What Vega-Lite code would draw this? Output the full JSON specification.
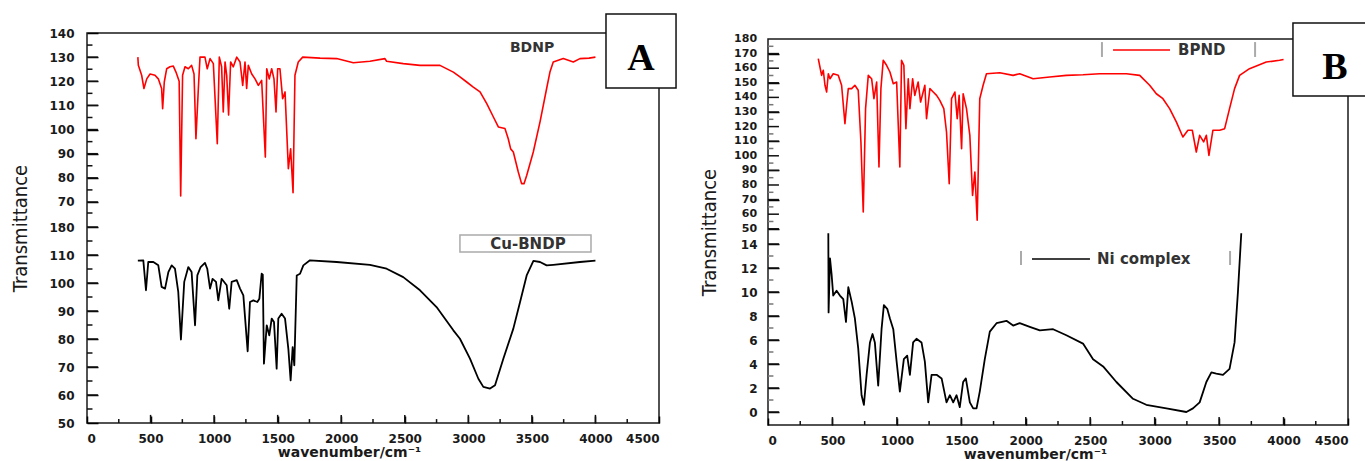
{
"$schema":"https://vega.github.io/schema/vega-lite/v6.json",
"padding":{"left":10,"top":12,"right":0,"bottom":0},
"background":"white",
"config":{"view":{"stroke":"#1a1a1a","strokeWidth":1.5},
 "axis":{"domain":false,"grid":false,"ticks":true,"zindex":2,"labelOverlap":false,"labelFont":"DejaVu Sans","labelFontWeight":"bold","labelFontSize":12,"labelColor":"#1a1a1a","tickColor":"#000000","tickWidth":1.5,"tickOpacity":1,"titleColor":"#1a1a1a"},
 "line":{"strokeJoin":"round"}},
"datasets":{
"tA_red_major":[{"v":70},{"v":80},{"v":90},{"v":100},{"v":110},{"v":120},{"v":130}],
"tA_red_minor":[{"v":75},{"v":85},{"v":95},{"v":105},{"v":115},{"v":125},{"v":135}],
"tA_blk_major":[{"v":60},{"v":70},{"v":80},{"v":90},{"v":100},{"v":110},{"v":120}],
"tA_blk_minor":[{"v":55},{"v":65},{"v":75},{"v":85},{"v":95},{"v":105},{"v":115},{"v":125}],
"tB_red_labels":[{"v":50},{"v":60},{"v":70},{"v":80},{"v":90},{"v":100},{"v":110},{"v":120},{"v":130},{"v":140},{"v":150},{"v":160},{"v":170},{"v":180}],
"tB_red_major":[{"v":50},{"v":60},{"v":70},{"v":80},{"v":90},{"v":100},{"v":110},{"v":120},{"v":130},{"v":140},{"v":150},{"v":160},{"v":170}],
"tB_red_minor":[{"v":55},{"v":65},{"v":75},{"v":85},{"v":95},{"v":105},{"v":115},{"v":125},{"v":135},{"v":145},{"v":155},{"v":165},{"v":175}],
"tB_blk_major":[{"v":0},{"v":2},{"v":4},{"v":6},{"v":8},{"v":10},{"v":12},{"v":14}],
"tB_blk_minor":[{"v":1},{"v":3},{"v":5},{"v":7},{"v":9},{"v":11},{"v":13}],
"tX_major":[{"w":500},{"w":1000},{"w":1500},{"w":2000},{"w":2500},{"w":3000},{"w":3500},{"w":4000}],
"tX_minor":[{"w":250},{"w":750},{"w":1250},{"w":1750},{"w":2250},{"w":2750},{"w":3250},{"w":3750},{"w":4250}],
"bdnp":[{"wn":400,"t":130},{"wn":404,"t":126.6},{"wn":430,"t":122.5},{"wn":448,"t":117},{"wn":470,"t":121},{"wn":496,"t":123},{"wn":535,"t":122.5},{"wn":561,"t":121},{"wn":587,"t":117},{"wn":595,"t":108.6},{"wn":608,"t":119.7},{"wn":627,"t":125.2},{"wn":653,"t":126},{"wn":679,"t":126.3},{"wn":700,"t":123.8},{"wn":725,"t":120},{"wn":737,"t":72.5},{"wn":752,"t":122.5},{"wn":771,"t":126},{"wn":797,"t":125.2},{"wn":823,"t":126.6},{"wn":842,"t":123},{"wn":857,"t":96.2},{"wn":876,"t":117},{"wn":889,"t":130},{"wn":928,"t":130},{"wn":946,"t":125.2},{"wn":968,"t":129.4},{"wn":994,"t":127.3},{"wn":1025,"t":94.1},{"wn":1041,"t":130},{"wn":1059,"t":126},{"wn":1072,"t":107.3},{"wn":1086,"t":128},{"wn":1099,"t":122.5},{"wn":1114,"t":106},{"wn":1130,"t":128},{"wn":1151,"t":126},{"wn":1178,"t":130},{"wn":1204,"t":128},{"wn":1225,"t":118.3},{"wn":1243,"t":128},{"wn":1256,"t":117},{"wn":1269,"t":126.6},{"wn":1296,"t":123},{"wn":1322,"t":121},{"wn":1348,"t":118.3},{"wn":1374,"t":120.4},{"wn":1403,"t":88.6},{"wn":1414,"t":125.2},{"wn":1434,"t":121},{"wn":1453,"t":125.2},{"wn":1471,"t":121},{"wn":1487,"t":107.3},{"wn":1500,"t":125.2},{"wn":1518,"t":125.2},{"wn":1539,"t":112.8},{"wn":1558,"t":115.6},{"wn":1584,"t":83.8},{"wn":1602,"t":92},{"wn":1621,"t":73.8},{"wn":1636,"t":122.5},{"wn":1662,"t":128},{"wn":1697,"t":130},{"wn":1833,"t":129.6},{"wn":1964,"t":129.4},{"wn":2095,"t":127.7},{"wn":2226,"t":128.3},{"wn":2344,"t":129.4},{"wn":2357,"t":128.3},{"wn":2488,"t":127.3},{"wn":2620,"t":126.6},{"wn":2777,"t":126.6},{"wn":2882,"t":123.8},{"wn":2934,"t":121.8},{"wn":2987,"t":119.7},{"wn":3039,"t":117.6},{"wn":3092,"t":115.6},{"wn":3145,"t":110.7},{"wn":3197,"t":105.2},{"wn":3236,"t":101.1},{"wn":3288,"t":100.4},{"wn":3314,"t":96.2},{"wn":3333,"t":92},{"wn":3354,"t":90.7},{"wn":3393,"t":82.4},{"wn":3419,"t":77.6},{"wn":3438,"t":77.6},{"wn":3459,"t":81},{"wn":3511,"t":90.7},{"wn":3564,"t":103.2},{"wn":3616,"t":117},{"wn":3642,"t":123.8},{"wn":3668,"t":128},{"wn":3747,"t":129.4},{"wn":3826,"t":128},{"wn":3878,"t":129.4},{"wn":3950,"t":129.6},{"wn":4000,"t":130}],
"cubndp":[{"wn":400,"t":108},{"wn":443,"t":108.1},{"wn":464,"t":97.4},{"wn":482,"t":107.5},{"wn":522,"t":107.5},{"wn":561,"t":106.3},{"wn":587,"t":98.6},{"wn":614,"t":98},{"wn":640,"t":103.9},{"wn":666,"t":106.3},{"wn":692,"t":105.1},{"wn":718,"t":96.8},{"wn":739,"t":79.8},{"wn":765,"t":100.4},{"wn":797,"t":105.7},{"wn":823,"t":103.9},{"wn":850,"t":84.9},{"wn":868,"t":102.7},{"wn":894,"t":105.7},{"wn":928,"t":107.2},{"wn":946,"t":105.1},{"wn":968,"t":98},{"wn":988,"t":101.5},{"wn":1015,"t":100.4},{"wn":1033,"t":93.8},{"wn":1059,"t":101.5},{"wn":1099,"t":99.2},{"wn":1119,"t":90.8},{"wn":1138,"t":100.4},{"wn":1178,"t":101},{"wn":1204,"t":98},{"wn":1230,"t":95.6},{"wn":1264,"t":75.6},{"wn":1282,"t":93.2},{"wn":1309,"t":93.8},{"wn":1340,"t":93.2},{"wn":1356,"t":94.4},{"wn":1374,"t":103.3},{"wn":1383,"t":103},{"wn":1392,"t":71.2},{"wn":1414,"t":84.9},{"wn":1434,"t":81.3},{"wn":1453,"t":87.3},{"wn":1471,"t":86.1},{"wn":1492,"t":69.4},{"wn":1505,"t":87.3},{"wn":1531,"t":89},{"wn":1558,"t":87.3},{"wn":1584,"t":76.5},{"wn":1602,"t":65.2},{"wn":1618,"t":77.1},{"wn":1631,"t":70.6},{"wn":1650,"t":102.7},{"wn":1676,"t":103.3},{"wn":1702,"t":106.3},{"wn":1754,"t":108.1},{"wn":1964,"t":107.5},{"wn":2226,"t":106.5},{"wn":2357,"t":105.1},{"wn":2488,"t":102.1},{"wn":2620,"t":97.4},{"wn":2750,"t":91.4},{"wn":2882,"t":83.1},{"wn":2934,"t":80.1},{"wn":3013,"t":73},{"wn":3079,"t":65.8},{"wn":3118,"t":62.9},{"wn":3171,"t":62.3},{"wn":3210,"t":63.5},{"wn":3276,"t":73},{"wn":3354,"t":83.7},{"wn":3407,"t":93.2},{"wn":3459,"t":102.7},{"wn":3512,"t":107.9},{"wn":3564,"t":107.5},{"wn":3616,"t":106.3},{"wn":3668,"t":106.5},{"wn":3878,"t":107.5},{"wn":4000,"t":108}],
"bpnd":[{"wn":390,"t":166.5},{"wn":403,"t":160.8},{"wn":416,"t":155.1},{"wn":429,"t":158.6},{"wn":442,"t":148.3},{"wn":455,"t":143.7},{"wn":468,"t":156.2},{"wn":481,"t":152.8},{"wn":506,"t":156.2},{"wn":545,"t":155.1},{"wn":571,"t":148.3},{"wn":597,"t":122},{"wn":610,"t":134.6},{"wn":623,"t":146},{"wn":649,"t":146},{"wn":674,"t":148.3},{"wn":700,"t":144.9},{"wn":721,"t":109.5},{"wn":739,"t":61.5},{"wn":757,"t":132.3},{"wn":778,"t":155.1},{"wn":804,"t":152.8},{"wn":822,"t":139.1},{"wn":843,"t":150.5},{"wn":861,"t":92.3},{"wn":876,"t":146},{"wn":894,"t":165.4},{"wn":920,"t":162},{"wn":946,"t":157.4},{"wn":972,"t":149.4},{"wn":998,"t":150.5},{"wn":1023,"t":92.3},{"wn":1036,"t":165.4},{"wn":1054,"t":162},{"wn":1070,"t":118.6},{"wn":1088,"t":152.8},{"wn":1101,"t":132.3},{"wn":1122,"t":152.8},{"wn":1139,"t":141.4},{"wn":1165,"t":150.5},{"wn":1184,"t":136.8},{"wn":1217,"t":148.3},{"wn":1230,"t":125.4},{"wn":1256,"t":146},{"wn":1282,"t":143.7},{"wn":1308,"t":141.4},{"wn":1333,"t":138},{"wn":1364,"t":132.3},{"wn":1385,"t":116.3},{"wn":1406,"t":80.9},{"wn":1424,"t":139.1},{"wn":1450,"t":143.7},{"wn":1468,"t":125.4},{"wn":1483,"t":141.4},{"wn":1502,"t":104.9},{"wn":1514,"t":142.5},{"wn":1540,"t":132.3},{"wn":1566,"t":114},{"wn":1587,"t":72.9},{"wn":1605,"t":88.9},{"wn":1623,"t":55.8},{"wn":1643,"t":139.1},{"wn":1669,"t":148.3},{"wn":1695,"t":156.2},{"wn":1798,"t":156.9},{"wn":1902,"t":155.1},{"wn":1953,"t":156.2},{"wn":2057,"t":152.8},{"wn":2186,"t":154},{"wn":2315,"t":155.1},{"wn":2444,"t":155.5},{"wn":2574,"t":156.2},{"wn":2781,"t":156.2},{"wn":2884,"t":155.1},{"wn":2961,"t":148.3},{"wn":3013,"t":142.5},{"wn":3064,"t":139.1},{"wn":3116,"t":132.3},{"wn":3168,"t":123.2},{"wn":3219,"t":112.9},{"wn":3258,"t":117.5},{"wn":3292,"t":117.5},{"wn":3323,"t":102.6},{"wn":3349,"t":114},{"wn":3380,"t":109.5},{"wn":3401,"t":114},{"wn":3421,"t":100.3},{"wn":3452,"t":117.5},{"wn":3504,"t":117.5},{"wn":3543,"t":118.6},{"wn":3581,"t":132.3},{"wn":3620,"t":146},{"wn":3659,"t":155.1},{"wn":3736,"t":159.7},{"wn":3866,"t":164.2},{"wn":3969,"t":165.4},{"wn":4000,"t":166}],
"ni":[{"wn":468,"t":14.9},{"wn":470,"t":8.3},{"wn":481,"t":12.8},{"wn":494,"t":11.4},{"wn":506,"t":9.7},{"wn":532,"t":10.1},{"wn":558,"t":9.7},{"wn":584,"t":9.4},{"wn":605,"t":7.5},{"wn":623,"t":10.4},{"wn":649,"t":9.2},{"wn":674,"t":7.8},{"wn":700,"t":5.3},{"wn":726,"t":1.4},{"wn":744,"t":0.6},{"wn":765,"t":3.1},{"wn":791,"t":5.8},{"wn":811,"t":6.5},{"wn":829,"t":5.8},{"wn":855,"t":2.2},{"wn":881,"t":6.9},{"wn":899,"t":8.9},{"wn":925,"t":8.6},{"wn":946,"t":7.8},{"wn":972,"t":6.9},{"wn":998,"t":4.2},{"wn":1023,"t":1.7},{"wn":1054,"t":4.4},{"wn":1080,"t":4.7},{"wn":1101,"t":3.1},{"wn":1126,"t":5.8},{"wn":1152,"t":6.1},{"wn":1191,"t":5.8},{"wn":1217,"t":4.2},{"wn":1243,"t":0.8},{"wn":1269,"t":3.1},{"wn":1308,"t":3.1},{"wn":1347,"t":2.8},{"wn":1385,"t":0.8},{"wn":1411,"t":1.4},{"wn":1437,"t":0.8},{"wn":1463,"t":1.4},{"wn":1488,"t":0.4},{"wn":1514,"t":2.5},{"wn":1535,"t":2.8},{"wn":1566,"t":0.8},{"wn":1592,"t":0.3},{"wn":1618,"t":0.3},{"wn":1643,"t":1.7},{"wn":1682,"t":4.4},{"wn":1721,"t":6.7},{"wn":1773,"t":7.4},{"wn":1850,"t":7.6},{"wn":1902,"t":7.2},{"wn":1953,"t":7.4},{"wn":2031,"t":7.1},{"wn":2109,"t":6.8},{"wn":2212,"t":6.9},{"wn":2315,"t":6.4},{"wn":2444,"t":5.7},{"wn":2522,"t":4.4},{"wn":2600,"t":3.8},{"wn":2703,"t":2.5},{"wn":2832,"t":1.1},{"wn":2935,"t":0.6},{"wn":3091,"t":0.3},{"wn":3246,"t":0},{"wn":3297,"t":0.3},{"wn":3349,"t":0.8},{"wn":3401,"t":2.5},{"wn":3440,"t":3.3},{"wn":3478,"t":3.2},{"wn":3530,"t":3.1},{"wn":3581,"t":3.6},{"wn":3620,"t":5.8},{"wn":3646,"t":10},{"wn":3672,"t":14.9}]
},
"bounds":"flush",
"spacing":109,
"hconcat":[
{
 "width":572,"height":390,
 "layer":[
  {"layer":[
   {"data":{"name":"bdnp"},"mark":{"type":"line","color":"#ff0000","strokeWidth":1.6},
    "encoding":{
     "x":{"field":"wn","type":"quantitative","scale":{"domain":[0,4500],"nice":false,"zero":false},
      "axis":{"values":[0,250,500,750,1000,1250,1500,1750,2000,2250,2500,2750,3000,3250,3500,3750,4000,4250,4500],"format":"d","labelExpr":"datum.value % 500 === 0 ? datum.label : ''","offset":-7,"tickSize":7,"labelPadding":10,"title":"wavenumber/cm⁻¹","titleFont":"DejaVu Sans","titleFontWeight":"bold","titleFontSize":14,"titlePadding":1,"titleX":262}},
     "y":{"field":"t","type":"quantitative","scale":{"domain":[-21.56,140],"nice":false,"zero":false},
      "axis":{"orient":"left","values":[70,75,80,85,90,95,100,105,110,115,120,125,130,135,140],"labelExpr":"datum.value % 10 === 0 ? datum.label : ''","offset":-11,"tickSize":11,"labelPadding":13,"title":"Transmittance","titleFont":"DejaVu Sans Condensed, Liberation Sans Narrow, Liberation Sans","titleFontSize":20,"titleFontWeight":"normal","titlePadding":18}}}},
   {"data":{"name":"tA_red_major"},"mark":{"type":"rule","color":"#111","strokeWidth":1.5},
    "encoding":{"x":{"datum":0,"type":"quantitative","scale":{"domain":[0,4500],"nice":false,"zero":false}},"x2":{"datum":86},"y":{"field":"v","type":"quantitative","scale":{"domain":[-21.56,140],"nice":false,"zero":false}}}},
   {"data":{"name":"tA_red_minor"},"mark":{"type":"rule","color":"#111","strokeWidth":1.5},
    "encoding":{"x":{"datum":0,"type":"quantitative","scale":{"domain":[0,4500],"nice":false,"zero":false}},"x2":{"datum":43},"y":{"field":"v","type":"quantitative","scale":{"domain":[-21.56,140],"nice":false,"zero":false}}}},
   {"data":{"values":[{}]},"mark":{"type":"text","font":"DejaVu Sans","fontWeight":"bold","fontSize":14,"color":"#333"},
    "encoding":{"x":{"datum":3501,"type":"quantitative","scale":{"domain":[0,4500],"nice":false,"zero":false}},"y":{"datum":133.8,"type":"quantitative","scale":{"domain":[-21.56,140],"nice":false,"zero":false}},"text":{"value":"BDNP"}}},
   {"data":{"values":[{}]},"mark":{"type":"rect","fill":"white","stroke":"#111","strokeWidth":1.5},
    "encoding":{"x":{"datum":4083,"type":"quantitative","scale":{"domain":[0,4500],"nice":false,"zero":false}},"x2":{"datum":4634},"y":{"datum":147.9,"type":"quantitative","scale":{"domain":[-21.56,140],"nice":false,"zero":false}},"y2":{"datum":117.2}}},
   {"data":{"values":[{}]},"mark":{"type":"text","font":"Liberation Serif","fontWeight":"bold","fontSize":38,"color":"#000"},
    "encoding":{"x":{"datum":4358,"type":"quantitative","scale":{"domain":[0,4500],"nice":false,"zero":false}},"y":{"datum":129.2,"type":"quantitative","scale":{"domain":[-21.56,140],"nice":false,"zero":false}},"text":{"value":"A"}}}
  ]},
  {"layer":[
   {"data":{"name":"cubndp"},"mark":{"type":"line","color":"#000000","strokeWidth":1.8},
    "encoding":{
     "x":{"field":"wn","type":"quantitative","scale":{"domain":[0,4500],"nice":false,"zero":false}},
     "y":{"field":"t","type":"quantitative","scale":{"domain":[50,189.29],"nice":false,"zero":false},
      "axis":{"orient":"left","values":[50,55,60,65,70,75,80,85,90,95,100,105,110,115,120,125],"labelExpr":"datum.value === 120 ? '180' : (datum.value % 10 === 0 ? datum.label : '')","offset":-11,"tickSize":11,"labelPadding":13,"title":null}}}},
   {"data":{"name":"tA_blk_major"},"mark":{"type":"rule","color":"#111","strokeWidth":1.5},
    "encoding":{"x":{"datum":0,"type":"quantitative","scale":{"domain":[0,4500],"nice":false,"zero":false}},"x2":{"datum":86},"y":{"field":"v","type":"quantitative","scale":{"domain":[50,189.29],"nice":false,"zero":false}}}},
   {"data":{"name":"tA_blk_minor"},"mark":{"type":"rule","color":"#111","strokeWidth":1.5},
    "encoding":{"x":{"datum":0,"type":"quantitative","scale":{"domain":[0,4500],"nice":false,"zero":false}},"x2":{"datum":43},"y":{"field":"v","type":"quantitative","scale":{"domain":[50,189.29],"nice":false,"zero":false}}}},
   {"data":{"name":"tX_major"},"mark":{"type":"rule","color":"#111","strokeWidth":1.5},
    "encoding":{"x":{"field":"w","type":"quantitative","scale":{"domain":[0,4500],"nice":false,"zero":false}},"y":{"datum":50,"type":"quantitative","scale":{"domain":[50,189.29],"nice":false,"zero":false}},"y2":{"datum":52.9}}},
   {"data":{"name":"tX_minor"},"mark":{"type":"rule","color":"#111","strokeWidth":1.5},
    "encoding":{"x":{"field":"w","type":"quantitative","scale":{"domain":[0,4500],"nice":false,"zero":false}},"y":{"datum":50,"type":"quantitative","scale":{"domain":[50,189.29],"nice":false,"zero":false}},"y2":{"datum":51.4}}},
   {"data":{"values":[{}]},"mark":{"type":"rect","fill":"white","stroke":"#aaa","strokeWidth":1.5},
    "encoding":{"x":{"datum":2934,"type":"quantitative","scale":{"domain":[0,4500],"nice":false,"zero":false}},"x2":{"datum":3965},"y":{"datum":117.14,"type":"quantitative","scale":{"domain":[50,189.29],"nice":false,"zero":false}},"y2":{"datum":111.07}}},
   {"data":{"values":[{}]},"mark":{"type":"text","font":"DejaVu Sans","fontWeight":"bold","fontSize":15,"color":"#333"},
    "encoding":{"x":{"datum":3469,"type":"quantitative","scale":{"domain":[0,4500],"nice":false,"zero":false}},"y":{"datum":114.1,"type":"quantitative","scale":{"domain":[50,189.29],"nice":false,"zero":false}},"text":{"value":"Cu-BNDP"}}}
  ]}
 ],
 "resolve":{"scale":{"y":"independent"},"axis":{"y":"independent"}}
},
{"vconcat":[
 {"width":580,"height":6,"data":{"values":[{}]},"mark":{"type":"point","opacity":0},"view":{"stroke":null}},
 {
 "width":580,"height":386,
 "layer":[
  {"layer":[
   {"data":{"name":"bpnd"},"mark":{"type":"line","color":"#ff0000","strokeWidth":1.6},
    "encoding":{
     "x":{"field":"wn","type":"quantitative","scale":{"domain":[0,4500],"nice":false,"zero":false},
      "axis":{"values":[0,250,500,750,1000,1250,1500,1750,2000,2250,2500,2750,3000,3250,3500,3750,4000,4250,4500],"format":"d","labelExpr":"datum.value % 500 === 0 ? datum.label : ''","offset":-7,"tickSize":7,"labelPadding":10,"title":"wavenumber/cm⁻¹","titleFont":"DejaVu Sans","titleFontWeight":"bold","titleFontSize":14,"titlePadding":1,"titleX":267}},
     "y":{"field":"t","type":"quantitative","scale":{"domain":[-84.4,180],"nice":false,"zero":false},
      "axis":{"orient":"left","values":[50,60,70,80,90,100,110,120,130,140,150,160,170,180],"labelFontSize":11,"labelOpacity":0,"offset":-11,"tickSize":11,"labelPadding":11,"title":"Transmittance","titleFont":"DejaVu Sans Condensed, Liberation Sans Narrow, Liberation Sans","titleFontSize":20,"titleFontWeight":"normal","titlePadding":15}}}},
   {"data":{"name":"tB_red_labels"},"mark":{"type":"text","font":"DejaVu Sans","fontWeight":"bold","fontSize":11,"color":"#1a1a1a","align":"right","baseline":"middle"},
    "encoding":{"x":{"datum":-85,"type":"quantitative","scale":{"domain":[0,4500],"nice":false,"zero":false}},"y":{"field":"v","type":"quantitative","scale":{"domain":[-84.4,180],"nice":false,"zero":false}},"text":{"field":"v","type":"quantitative","format":"d"}}},
   {"data":{"name":"tB_red_major"},"mark":{"type":"rule","color":"#111","strokeWidth":1.5},
    "encoding":{"x":{"datum":0,"type":"quantitative","scale":{"domain":[0,4500],"nice":false,"zero":false}},"x2":{"datum":85},"y":{"field":"v","type":"quantitative","scale":{"domain":[-84.4,180],"nice":false,"zero":false}}}},
   {"data":{"name":"tB_red_minor"},"mark":{"type":"rule","color":"#777","strokeWidth":1.5},
    "encoding":{"x":{"datum":0,"type":"quantitative","scale":{"domain":[0,4500],"nice":false,"zero":false}},"x2":{"datum":42},"y":{"field":"v","type":"quantitative","scale":{"domain":[-84.4,180],"nice":false,"zero":false}}}},
   {"data":{"values":[{}]},"mark":{"type":"rule","color":"#aaa","strokeWidth":2},
    "encoding":{"x":{"datum":2591,"type":"quantitative","scale":{"domain":[0,4500],"nice":false,"zero":false}},"y":{"datum":177.9,"type":"quantitative","scale":{"domain":[-84.4,180],"nice":false,"zero":false}},"y2":{"datum":167.7}}},
   {"data":{"values":[{}]},"mark":{"type":"rule","color":"#aaa","strokeWidth":2},
    "encoding":{"x":{"datum":3779,"type":"quantitative","scale":{"domain":[0,4500],"nice":false,"zero":false}},"y":{"datum":177.9,"type":"quantitative","scale":{"domain":[-84.4,180],"nice":false,"zero":false}},"y2":{"datum":167.7}}},
   {"data":{"values":[{}]},"mark":{"type":"rule","color":"#ff0000","strokeWidth":1.6},
    "encoding":{"x":{"datum":2677,"type":"quantitative","scale":{"domain":[0,4500],"nice":false,"zero":false}},"x2":{"datum":3119},"y":{"datum":172.5,"type":"quantitative","scale":{"domain":[-84.4,180],"nice":false,"zero":false}}}},
   {"data":{"values":[{}]},"mark":{"type":"text","font":"DejaVu Sans","fontWeight":"bold","fontSize":15,"color":"#333","align":"left"},
    "encoding":{"x":{"datum":3181,"type":"quantitative","scale":{"domain":[0,4500],"nice":false,"zero":false}},"y":{"datum":172.5,"type":"quantitative","scale":{"domain":[-84.4,180],"nice":false,"zero":false}},"text":{"value":"BPND"}}},
   {"data":{"values":[{}]},"mark":{"type":"rect","fill":"white","stroke":"#111","strokeWidth":1.5},
    "encoding":{"x":{"datum":4073,"type":"quantitative","scale":{"domain":[0,4500],"nice":false,"zero":false}},"x2":{"datum":4671},"y":{"datum":190.9,"type":"quantitative","scale":{"domain":[-84.4,180],"nice":false,"zero":false}},"y2":{"datum":141}}},
   {"data":{"values":[{}]},"mark":{"type":"text","font":"Liberation Serif","fontWeight":"bold","fontSize":38,"color":"#000"},
    "encoding":{"x":{"datum":4399,"type":"quantitative","scale":{"domain":[0,4500],"nice":false,"zero":false}},"y":{"datum":159.8,"type":"quantitative","scale":{"domain":[-84.4,180],"nice":false,"zero":false}},"text":{"value":"B"}}}
  ]},
  {"layer":[
   {"data":{"name":"ni"},"mark":{"type":"line","color":"#000000","strokeWidth":1.8},
    "encoding":{
     "x":{"field":"wn","type":"quantitative","scale":{"domain":[0,4500],"nice":false,"zero":false}},
     "y":{"field":"t","type":"quantitative","scale":{"domain":[-1.083,31.083],"nice":false,"zero":false},
      "axis":{"orient":"left","values":[0,1,2,3,4,5,6,7,8,9,10,11,12,13,14],"labelExpr":"datum.value % 2 === 0 ? datum.label : ''","offset":-11,"tickSize":11,"labelPadding":11,"title":null}}}},
   {"data":{"name":"tB_blk_major"},"mark":{"type":"rule","color":"#111","strokeWidth":1.5},
    "encoding":{"x":{"datum":0,"type":"quantitative","scale":{"domain":[0,4500],"nice":false,"zero":false}},"x2":{"datum":85},"y":{"field":"v","type":"quantitative","scale":{"domain":[-1.083,31.083],"nice":false,"zero":false}}}},
   {"data":{"name":"tB_blk_minor"},"mark":{"type":"rule","color":"#777","strokeWidth":1.5},
    "encoding":{"x":{"datum":0,"type":"quantitative","scale":{"domain":[0,4500],"nice":false,"zero":false}},"x2":{"datum":42},"y":{"field":"v","type":"quantitative","scale":{"domain":[-1.083,31.083],"nice":false,"zero":false}}}},
   {"data":{"name":"tX_major"},"mark":{"type":"rule","color":"#111","strokeWidth":1.5},
    "encoding":{"x":{"field":"w","type":"quantitative","scale":{"domain":[0,4500],"nice":false,"zero":false}},"y":{"datum":-1.083,"type":"quantitative","scale":{"domain":[-1.083,31.083],"nice":false,"zero":false}},"y2":{"datum":-0.42}}},
   {"data":{"name":"tX_minor"},"mark":{"type":"rule","color":"#111","strokeWidth":1.5},
    "encoding":{"x":{"field":"w","type":"quantitative","scale":{"domain":[0,4500],"nice":false,"zero":false}},"y":{"datum":-1.083,"type":"quantitative","scale":{"domain":[-1.083,31.083],"nice":false,"zero":false}},"y2":{"datum":-0.75}}},
   {"data":{"values":[{}]},"mark":{"type":"rule","color":"#aaa","strokeWidth":2},
    "encoding":{"x":{"datum":1963,"type":"quantitative","scale":{"domain":[0,4500],"nice":false,"zero":false}},"y":{"datum":13.42,"type":"quantitative","scale":{"domain":[-1.083,31.083],"nice":false,"zero":false}},"y2":{"datum":12.25}}},
   {"data":{"values":[{}]},"mark":{"type":"rule","color":"#aaa","strokeWidth":2},
    "encoding":{"x":{"datum":3585,"type":"quantitative","scale":{"domain":[0,4500],"nice":false,"zero":false}},"y":{"datum":13.42,"type":"quantitative","scale":{"domain":[-1.083,31.083],"nice":false,"zero":false}},"y2":{"datum":12.25}}},
   {"data":{"values":[{}]},"mark":{"type":"rule","color":"#000000","strokeWidth":1.5},
    "encoding":{"x":{"datum":2048,"type":"quantitative","scale":{"domain":[0,4500],"nice":false,"zero":false}},"x2":{"datum":2498},"y":{"datum":12.75,"type":"quantitative","scale":{"domain":[-1.083,31.083],"nice":false,"zero":false}}}},
   {"data":{"values":[{}]},"mark":{"type":"text","font":"DejaVu Sans","fontWeight":"bold","fontSize":15,"color":"#333","align":"left"},
    "encoding":{"x":{"datum":2553,"type":"quantitative","scale":{"domain":[0,4500],"nice":false,"zero":false}},"y":{"datum":12.75,"type":"quantitative","scale":{"domain":[-1.083,31.083],"nice":false,"zero":false}},"text":{"value":"Ni complex"}}}
  ]}
 ],
 "resolve":{"scale":{"y":"independent"},"axis":{"y":"independent"}}
 }
],"spacing":0,"bounds":"flush"}
]
}
